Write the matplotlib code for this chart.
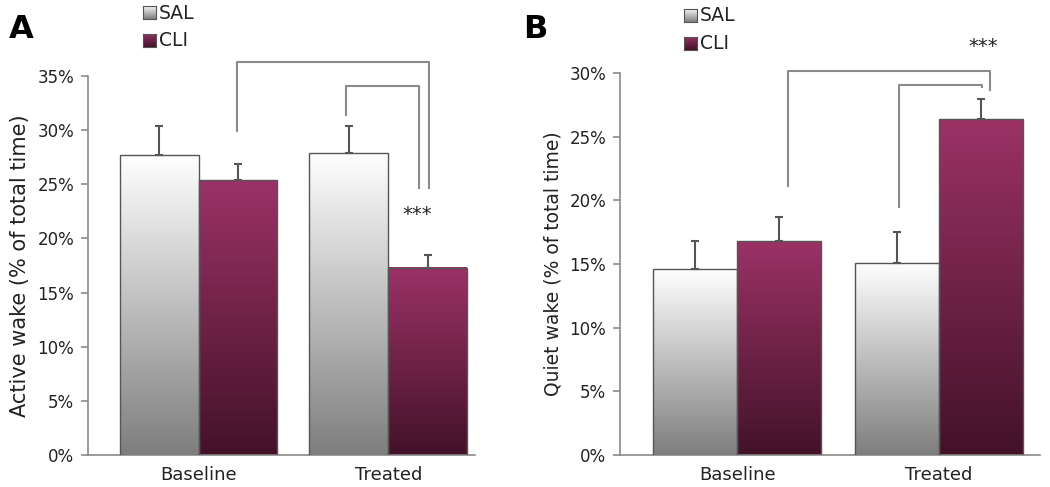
import numpy as np
import matplotlib.pyplot as plt
from matplotlib.colors import LinearSegmentedColormap

plt.rcParams['font.family'] = ['DejaVu Sans']

groups = ["Baseline", "Treated"]
series = ["SAL", "CLI"]

# panel A - active wake (%)
active_sal = [27.7, 27.9]
active_sal_err = [2.7, 2.5]
active_cli = [25.4, 17.3]
active_cli_err = [1.5, 1.2]

# panel B - quiet wake (%)
quiet_sal = [14.6, 15.1]
quiet_sal_err = [2.2, 2.4]
quiet_cli = [16.8, 26.4]
quiet_cli_err = [1.9, 1.6]

# significance brackets: (x_left, y_left, x_right, y_right, y_top)
brackets_a = [(0.205, 29.9, 1.214, 24.7, 36.3), (0.78, 31.4, 1.16, 24.7, 34.1)]
stars_a = (1.155, 22.2)
brackets_b = [(0.25, 21.1, 1.25, 28.7, 30.2), (0.80, 19.5, 1.213, 28.9, 29.1)]
stars_b = (1.218, 32.1)

sal_cmap = LinearSegmentedColormap.from_list("sal", ["#7e7e7e", "#ffffff"])
cli_cmap = LinearSegmentedColormap.from_list("cli", ["#431229", "#9b3266"])
grad = np.linspace(0, 1, 256).reshape(-1, 1)
line_col = "#8a8a8a"
text_col = "#222222"


def grad_bar(ax, x, w, h, cmap):
    ax.imshow(grad, extent=[x - w / 2, x + w / 2, 0, h], origin="lower",
              aspect="auto", cmap=cmap, zorder=2)
    ax.bar(x, h, w, fill=False, edgecolor="#555555", linewidth=1.0, zorder=3)


def panel(ax, sal, sal_err, cli, cli_err, ymax, ylabel, ylabel_size,
          brackets, stars, xlim):
    w = 0.415
    x = np.arange(len(groups))
    for i in x:
        grad_bar(ax, i - w / 2, w, sal[i], sal_cmap)
        grad_bar(ax, i + w / 2, w, cli[i], cli_cmap)
    ax.errorbar(x - w / 2, sal, yerr=[np.zeros(2), sal_err], fmt="none",
                ecolor="#555555", elinewidth=1.5, capsize=3, capthick=1.5, zorder=4)
    ax.errorbar(x + w / 2, cli, yerr=[np.zeros(2), cli_err], fmt="none",
                ecolor="#555555", elinewidth=1.5, capsize=3, capthick=1.5, zorder=4)
    for xl, yl, xr, yr, yt in brackets:
        ax.plot([xl, xl, xr, xr], [yl, yt, yt, yr], color=line_col, lw=1.5,
                clip_on=False, zorder=1)
    ax.text(stars[0], stars[1], "***", ha="center", va="center", fontsize=14,
            color=text_col, clip_on=False)
    ax.set_xlim(*xlim)
    ax.set_ylim(0, ymax)
    ax.set_yticks(np.arange(0, ymax + 1, 5))
    ax.set_yticklabels([f"{v}%" for v in range(0, ymax + 1, 5)])
    ax.set_xticks(x)
    ax.set_xticklabels(groups)
    ax.tick_params(axis="x", length=0, pad=8, labelsize=13, labelcolor=text_col)
    ax.tick_params(axis="y", length=5, width=1.2, color=line_col, pad=5,
                   labelsize=12, labelcolor=text_col)
    ax.set_ylabel(ylabel, fontsize=ylabel_size, color=text_col, labelpad=5)
    for s in ["top", "right"]:
        ax.spines[s].set_visible(False)
    for s in ["left", "bottom"]:
        ax.spines[s].set_color(line_col)
        ax.spines[s].set_linewidth(1.2)


def legend(fig, x, y):
    for k, cmap in enumerate([sal_cmap, cli_cmap]):
        yy = y - k * 0.057
        lax = fig.add_axes([x, yy - 0.013, 0.0124, 0.027])
        lax.imshow(grad, origin="lower", aspect="auto", cmap=cmap)
        lax.set_xticks([])
        lax.set_yticks([])
        for sp in lax.spines.values():
            sp.set_color("#555555")
            sp.set_linewidth(0.8)
        fig.text(x + 0.015, yy, series[k], ha="left", va="center",
                 fontsize=13.5, color=text_col)


fig = plt.figure(figsize=(10.5, 4.87), dpi=100)
ax_a = fig.add_axes([0.0838, 0.0657, 0.369, 0.778])
ax_b = fig.add_axes([0.5905, 0.0657, 0.400, 0.784])

panel(ax_a, active_sal, active_sal_err, active_cli, active_cli_err, 35,
      "Active wake (% of total time)", 15, brackets_a, stars_a, (-0.583, 1.46))
panel(ax_b, quiet_sal, quiet_sal_err, quiet_cli, quiet_cli_err, 30,
      "Quiet wake (% of total time)", 13.5, brackets_b, stars_b, (-0.58, 1.5))

legend(fig, 0.1365, 0.973)
legend(fig, 0.6515, 0.968)

fig.text(0.008, 0.94, "A", fontsize=23, fontweight="bold", ha="left", va="center")
fig.text(0.498, 0.94, "B", fontsize=23, fontweight="bold", ha="left", va="center")

plt.savefig("out.png", dpi=100)
